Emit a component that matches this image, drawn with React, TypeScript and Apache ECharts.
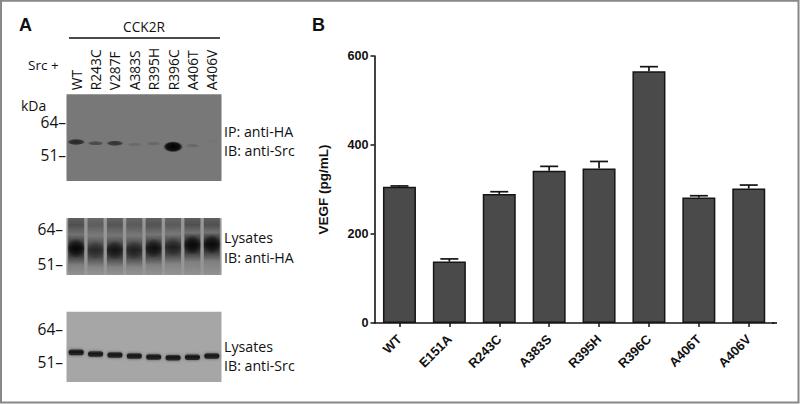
import React, { useEffect, useRef } from "react";
import * as echarts from "echarts";

const W = 800;
const H = 404;

// Panel A: lanes
const blotLanes = ["WT", "R243C", "V287F", "A383S", "R395H", "R396C", "A406T", "A406V"];
// [band position (% from blot top)] and [band strength 0-1]
const ipPos = [55, 56.5, 56.5, 58, 57, 60.5, 59.4, 54];
const ipStrength = [0.68, 0.4, 0.58, 0.12, 0.14, 1, 0.14, 0.03];
const haPos = [53, 56, 56, 56, 53, 51, 47, 46];
const haStrength = [1, 0.62, 0.85, 0.72, 0.9, 0.72, 1, 0.98];
const srcPos = [57.8, 60.2, 61.6, 63, 64.4, 65.4, 64.9, 63];
const srcStrength = [1, 0.9, 0.95, 0.95, 0.95, 0.95, 0.95, 0.95];

// Panel B
const barCategories = ["WT", "E151A", "R243C", "A383S", "R395H", "R396C", "A406T", "A406V"];
const vegfMean = [306, 138, 290, 342, 347, 566, 282, 302];
const vegfUpper = [308, 144, 295, 352, 363, 576, 286, 310];
const yTicks = { min: 0, max: 600, interval: 200 };

const SANS = '"Open Sans", "Noto Sans", sans-serif';
const ARIAL = '"Liberation Sans", Arial, sans-serif';

const gray = (v: number) => {
  const c = Math.max(0, Math.min(255, Math.round(v)));
  return `rgb(${c},${c},${c})`;
};

const ipBand = (params: any, api: any) => {
  const [x, y] = api.coord([api.value(0), api.value(1)]);
  const s = api.value(2);
  const rx = 7 + 3 * s;
  const ry = 2 + 3.6 * s * s * s;
  return {
    type: "ellipse",
    shape: { cx: x, cy: y, rx: rx, ry: ry },
    style: {
      fill: new echarts.graphic.RadialGradient(0.5, 0.5, 0.5, [
        { offset: 0, color: `rgba(0,0,0,${s})` },
        { offset: 0.7, color: `rgba(0,0,0,${s * 0.85})` },
        { offset: 1, color: "rgba(0,0,0,0)" },
      ]),
    },
  };
};

const haLane = (params: any, api: any) => {
  const [x, y] = api.coord([api.value(0), api.value(1)]);
  const s = api.value(2);
  const top = params.coordSys.y;
  const h = params.coordSys.height;
  const band = (y - top) / h;
  const shade = (k: number) => gray(162 - 134 * k * (0.55 + 0.45 * s));
  return {
    type: "group",
    children: [
      {
        type: "rect",
        shape: { x: x - 8, y: top, width: 16, height: h },
        style: {
          fill: new echarts.graphic.LinearGradient(0, 0, 0, 1, [
            { offset: 0, color: shade(0.5) },
            { offset: 0.12, color: shade(0.62) },
            { offset: band * 0.55, color: shade(0.36) },
            { offset: band - 0.16, color: shade(0.58) },
            { offset: band, color: shade(0.95) },
            { offset: band + 0.14, color: shade(0.75) },
            { offset: band + 0.3, color: shade(0.26) },
            { offset: 1, color: shade(0.12) },
          ]),
          shadowBlur: 5,
          shadowColor: "rgba(120,120,120,0.8)",
        },
      },
      {
        type: "ellipse",
        shape: { cx: x, cy: y, rx: 9.5, ry: 10 },
        style: {
          fill: new echarts.graphic.RadialGradient(0.5, 0.5, 0.5, [
            { offset: 0, color: `rgba(0,0,0,${0.8 * s * s})` },
            { offset: 0.55, color: `rgba(0,0,0,${0.55 * s * s})` },
            { offset: 1, color: "rgba(0,0,0,0)" },
          ]),
        },
      },
    ],
  };
};

const srcBand = (params: any, api: any) => {
  const [x, y] = api.coord([api.value(0), api.value(1)]);
  const s = api.value(2);
  return {
    type: "rect",
    shape: { x: x - 7.5, y: y - 2.8, width: 15, height: 5.6, r: 2.5 },
    style: {
      fill: new echarts.graphic.LinearGradient(0, 0, 0, 1, [
        { offset: 0, color: gray(60) },
        { offset: 0.4, color: gray(18 / s) },
        { offset: 1, color: gray(45) },
      ]),
      shadowBlur: 3,
      shadowColor: "rgba(50,50,50,0.75)",
    },
  };
};

const errorBar = (params: any, api: any) => {
  const lane = api.value(0);
  const [x, y0] = api.coord([lane, api.value(1)]);
  const [, y1] = api.coord([lane, api.value(2)]);
  const stroke = { stroke: "#141414", lineWidth: 1.7, fill: "none" };
  return {
    type: "group",
    children: [
      { type: "line", shape: { x1: x, y1: y0, x2: x, y2: y1 }, style: stroke },
      { type: "line", shape: { x1: x - 9, y1: y1, x2: x + 9, y2: y1 }, style: stroke },
    ],
  };
};

const label = (text: string, x: number, y: number, size: number, opts: any = {}) => ({
  type: "text",
  x,
  y,
  silent: true,
  style: {
    text,
    fontFamily: opts.family || SANS,
    fontSize: size,
    fontWeight: opts.weight || "normal",
    fill: "#111",
    align: opts.align || "left",
    verticalAlign: "middle",
  },
});

const zipBands = (pos: number[], strength: number[]) =>
  pos.map((p, i) => [i, p, strength[i]]);

const blotGrid = (top: number, height: number, color: string) => ({
  left: 66.5,
  width: 155,
  top,
  height,
  show: true,
  backgroundColor: color,
  borderWidth: 0,
});

const App = () => {
  const ref = useRef<HTMLDivElement>(null);
  useEffect(() => {
    const chart = echarts.init(ref.current!, undefined, { renderer: "svg" });
    const hiddenX = (gridIndex: number) => ({
      type: "category" as const,
      gridIndex,
      data: blotLanes,
      show: false,
    });
    const hiddenY = (gridIndex: number) => ({
      type: "value" as const,
      gridIndex,
      min: 0,
      max: 100,
      inverse: true,
      show: false,
    });
    chart.setOption({
      animation: false,
      backgroundColor: "#ffffff",
      grid: [
        blotGrid(94.3, 86.7, "#787878"),
        blotGrid(218, 57, "#a8a8a8"),
        blotGrid(311.7, 70.3, "#a6a6a6"),
        { left: 374.5, width: 399.2, top: 56, height: 267, borderWidth: 0, show: false },
      ],
      xAxis: [
        {
          type: "category",
          gridIndex: 0,
          position: "top",
          data: blotLanes,
          axisLine: { show: false },
          axisTick: { show: false },
          axisLabel: {
            interval: 0,
            rotate: 90,
            margin: 4,
            fontFamily: SANS,
            fontSize: 13.8,
            color: "#111",
          },
        },
        hiddenX(1),
        hiddenX(2),
        {
          type: "category",
          gridIndex: 3,
          data: barCategories,
          axisLine: { show: true, lineStyle: { color: "#141414", width: 1.6 } },
          axisTick: { show: true, length: 4, alignWithLabel: true, lineStyle: { color: "#141414", width: 1.5 } },
          axisLabel: {
            interval: 0,
            rotate: 45,
            margin: 14,
            fontFamily: ARIAL,
            fontWeight: "bold",
            fontSize: 13,
            color: "#111",
          },
        },
      ],
      yAxis: [
        hiddenY(0),
        hiddenY(1),
        hiddenY(2),
        {
          type: "value",
          gridIndex: 3,
          min: yTicks.min,
          max: yTicks.max,
          interval: yTicks.interval,
          name: "VEGF (pg/mL)",
          nameLocation: "middle",
          nameGap: 44,
          nameTextStyle: { fontFamily: ARIAL, fontWeight: "bold", fontSize: 13.5, color: "#111" },
          splitLine: { show: false },
          axisLine: { show: true, lineStyle: { color: "#141414", width: 1.6 } },
          axisTick: { show: true, length: 4, lineStyle: { color: "#141414", width: 1.5 } },
          axisLabel: {
            margin: 6,
            fontFamily: ARIAL,
            fontWeight: "bold",
            fontSize: 12.6,
            color: "#111",
          },
        },
      ],
      series: [
        { type: "custom", xAxisIndex: 0, yAxisIndex: 0, data: zipBands(ipPos, ipStrength), renderItem: ipBand, clip: false, encode: { x: 0, y: 1 } },
        { type: "custom", xAxisIndex: 1, yAxisIndex: 1, data: zipBands(haPos, haStrength), renderItem: haLane, clip: true, encode: { x: 0, y: 1 } },
        { type: "custom", xAxisIndex: 2, yAxisIndex: 2, data: zipBands(srcPos, srcStrength), renderItem: srcBand, clip: false, encode: { x: 0, y: 1 } },
        {
          type: "bar",
          xAxisIndex: 3,
          yAxisIndex: 3,
          data: vegfMean,
          barWidth: 33,
          itemStyle: { color: "#4a4a4a", borderColor: "#151515", borderWidth: 1.5 },
        },
        {
          type: "custom",
          xAxisIndex: 3,
          yAxisIndex: 3,
          data: vegfMean.map((m, i) => [i, m, vegfUpper[i]]),
          renderItem: errorBar,
          encode: { x: 0, y: [1, 2] },
          z: 1,
          clip: false,
        },
      ],
      graphic: [
        { type: "rect", silent: true, shape: { x: 1, y: 0.7, width: 797.5, height: 401.8 }, style: { fill: "none", stroke: "#888", lineWidth: 2 } },
        { type: "line", silent: true, shape: { x1: 772, y1: 323, x2: 777, y2: 323 }, style: { stroke: "#141414", lineWidth: 1.6 } },
        { type: "line", silent: true, shape: { x1: 69, y1: 38, x2: 220, y2: 38 }, style: { stroke: "#111", lineWidth: 1.4 } },
        label("A", 19, 25, 18, { family: ARIAL, weight: "bold" }),
        label("B", 312, 25, 18, { family: ARIAL, weight: "bold" }),
        label("CCK2R", 144, 26, 13.7, { align: "center" }),
        label("Src +", 28, 65, 13.5),
        label("kDa", 21, 105, 14),
        label("64–", 66, 122, 15.5, { align: "right" }),
        label("51–", 66, 155, 15.5, { align: "right" }),
        label("64–", 63, 229, 15.5, { align: "right" }),
        label("51–", 63, 264, 15.5, { align: "right" }),
        label("64–", 63, 329, 15.5, { align: "right" }),
        label("51–", 63, 362, 15.5, { align: "right" }),
        label("IP: anti-HA", 224, 131, 14.2),
        label("IB: anti-Src", 224, 150, 14.2),
        label("Lysates", 224, 237, 14.2),
        label("IB: anti-HA", 224, 257, 14.2),
        label("Lysates", 224, 346, 14.2),
        label("IB: anti-Src", 224, 365, 14.2),
      ],
    });
    return () => chart.dispose();
  }, []);
  return <div ref={ref} style={{ position: "absolute", left: 0, top: 0, width: W, height: H }} />;
};

export default App;
